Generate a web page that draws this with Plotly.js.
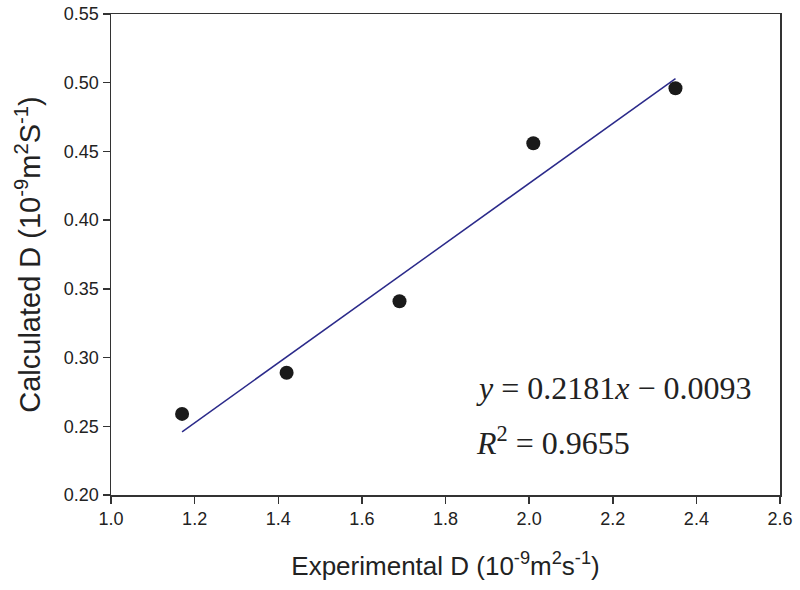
<!DOCTYPE html>
<html>
<head>
<meta charset="utf-8">
<script src="https://cdn.plot.ly/plotly-3.0.1.min.js"></script>
<style>
  body { margin: 0; background: #fff; }
  #plot { width: 800px; height: 590px; }
</style>
</head>
<body>
<div id="plot"></div>
<script>
// measured points
const expD = [1.17, 1.42, 1.69, 2.01, 2.35];
const calcD = [0.259, 0.289, 0.341, 0.456, 0.496];

// fitted line ends, as drawn
const fitX = [1.17, 2.35];
const fitY = [0.246, 0.503];

const xTicks = [1.0, 1.2, 1.4, 1.6, 1.8, 2.0, 2.2, 2.4, 2.6];
const yTicks = [0.20, 0.25, 0.30, 0.35, 0.40, 0.45, 0.50, 0.55];

const points = {
    x: expD,
    y: calcD,
    mode: 'markers',
    type: 'scatter',
    marker: { color: '#1a1a1a', size: 14 },
    hoverinfo: 'x+y'
};

const fit = {
    x: fitX,
    y: fitY,
    mode: 'lines',
    type: 'scatter',
    line: { color: '#2b2a8a', width: 1.5 },
    hoverinfo: 'skip'
};

const axisStyle = {
    showline: true,
    linecolor: '#333',
    linewidth: 1.5,
    mirror: true,
    ticks: 'outside',
    ticklen: 7,
    tickwidth: 1.5,
    tickcolor: '#333',
    showgrid: false,
    zeroline: false,
    tickfont: { family: 'Liberation Sans, Arial, sans-serif', size: 18, color: '#222' }
};

const layout = {
    width: 800,
    height: 590,
    margin: { l: 111, r: 20, t: 14, b: 95 },
    paper_bgcolor: '#fff',
    plot_bgcolor: '#fff',
    showlegend: false,
    xaxis: Object.assign({}, axisStyle, {
        range: [1.0, 2.6],
        tickvals: xTicks,
        ticktext: xTicks.map(v => v.toFixed(1)),
        title: {
            text: 'Experimental D (10<sup>-9</sup>m<sup>2</sup>s<sup>-1</sup>)',
            font: { family: 'Liberation Sans, Arial, sans-serif', size: 26, color: '#222' },
            standoff: 28
        }
    }),
    yaxis: Object.assign({}, axisStyle, {
        range: [0.20, 0.55],
        tickvals: yTicks,
        ticktext: yTicks.map(v => v.toFixed(2)),
        title: {
            text: 'Calculated D (10<sup>-9</sup>m<sup>2</sup>S<sup>-1</sup>)',
            font: { family: 'Liberation Sans, Arial, sans-serif', size: 29, color: '#222' },
            standoff: 14
        }
    }),
    annotations: [
        {
            xref: 'paper', yref: 'paper',
            x: 0.543, y: 0.222,
            xanchor: 'left', yanchor: 'middle',
            showarrow: false,
            text: '<i>y</i> = 0.2181<i>x</i> \u2212 0.0093',
            font: { family: 'Liberation Serif, Times New Roman, serif', size: 32, color: '#222' }
        },
        {
            xref: 'paper', yref: 'paper',
            x: 0.543, y: 0.112,
            xanchor: 'left', yanchor: 'middle',
            showarrow: false,
            text: '<i>R</i><sup>2</sup> = 0.9655',
            font: { family: 'Liberation Serif, Times New Roman, serif', size: 32, color: '#222' }
        }
    ]
};

Plotly.newPlot('plot', [fit, points], layout, { displayModeBar: false, staticPlot: true });
</script>
</body>
</html>
